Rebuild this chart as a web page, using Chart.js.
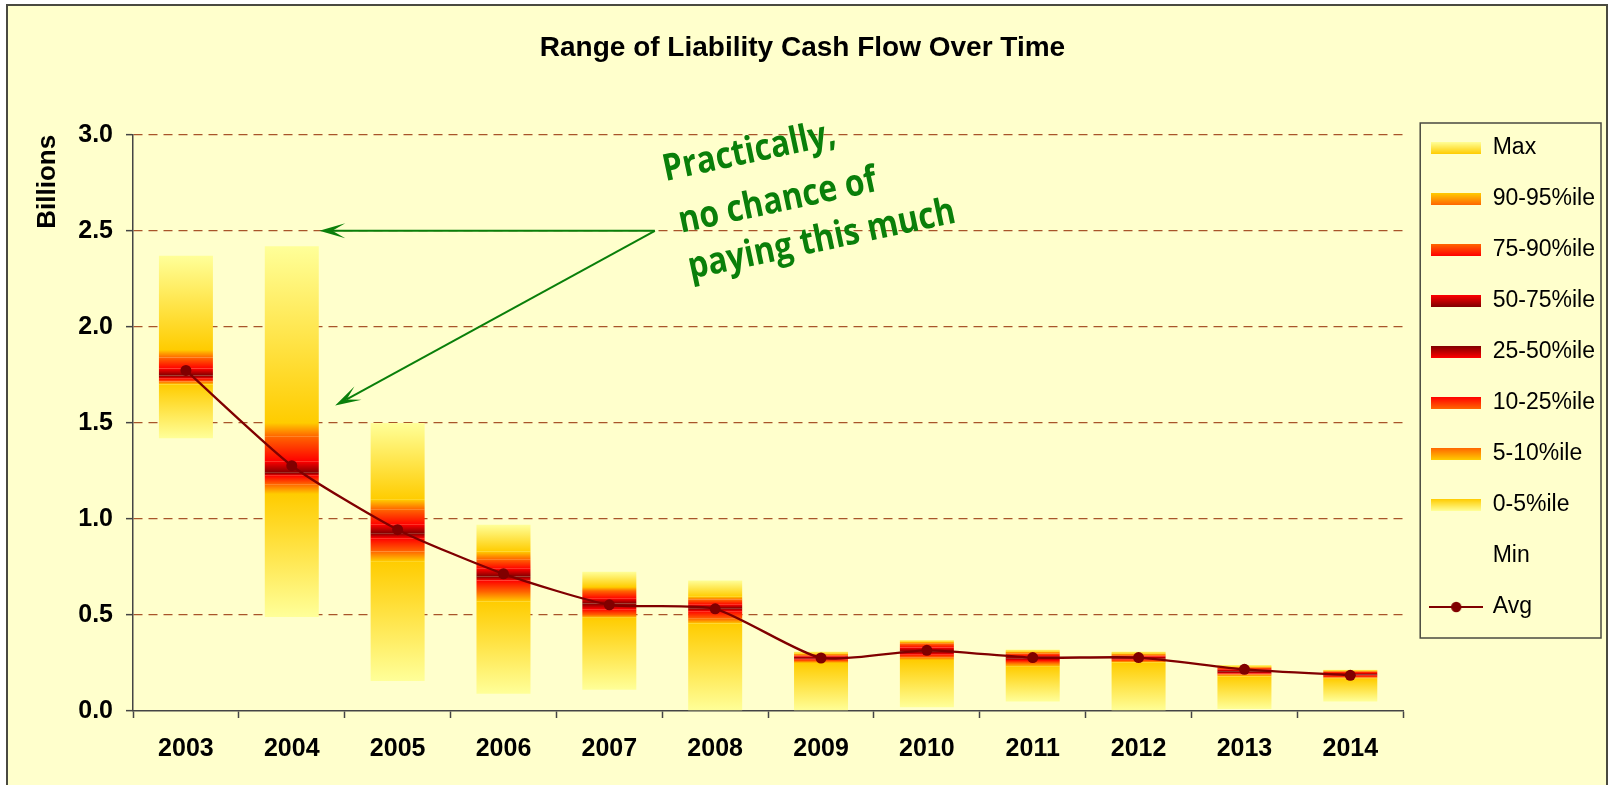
<!DOCTYPE html>
<html>
<head>
<meta charset="utf-8">
<script src="https://cdn.jsdelivr.net/npm/chart.js@4.4.1/dist/chart.umd.min.js"></script>
<style>
  html, body { margin: 0; padding: 0; background: #ffffff; }
  #wrap { position: absolute; left: 0; top: 0; width: 1609px; height: 785px; }
</style>
</head>
<body>
<div id="wrap"><canvas id="chart" width="1609" height="785"></canvas></div>
<script>
// ---------------- data (billions) ----------------
const years   = ['2003','2004','2005','2006','2007','2008','2009','2010','2011','2012','2013','2014'];
const minVals = [1.42, 0.49, 0.156, 0.09, 0.11, 0.00, 0.00, 0.02, 0.05, 0.00, 0.01, 0.05];
const p05Vals = [1.70, 1.13, 0.78, 0.57, 0.485, 0.455, 0.25, 0.265, 0.23, 0.252, 0.18, 0.168];
const p10Vals = [1.715, 1.18, 0.83, 0.62, 0.50, 0.48, 0.26, 0.28, 0.25, 0.26, 0.19, 0.175];
const p25Vals = [1.73, 1.225, 0.90, 0.68, 0.53, 0.52, 0.27, 0.295, 0.265, 0.27, 0.195, 0.183];
const p50Vals = [1.747, 1.24, 0.925, 0.70, 0.56, 0.535, 0.275, 0.31, 0.275, 0.275, 0.205, 0.19];
const p75Vals = [1.783, 1.30, 0.97, 0.74, 0.585, 0.553, 0.285, 0.33, 0.285, 0.283, 0.215, 0.198];
const p90Vals = [1.84, 1.43, 1.05, 0.79, 0.625, 0.58, 0.29, 0.35, 0.30, 0.29, 0.225, 0.205];
const p95Vals = [1.88, 1.50, 1.10, 0.83, 0.645, 0.595, 0.30, 0.36, 0.31, 0.30, 0.23, 0.21];
const maxVals = [2.37, 2.42, 1.50, 0.97, 0.725, 0.68, 0.31, 0.37, 0.32, 0.31, 0.24, 0.215];
const avgVals = [1.773, 1.277, 0.944, 0.714, 0.553, 0.532, 0.276, 0.316, 0.278, 0.278, 0.217, 0.186];
const yTickVals = [0, 0.5, 1.0, 1.5, 2.0, 2.5, 3.0];

const chartTitle = 'Range of Liability Cash Flow Over Time';
const yTitle = 'Billions';
const noteLines = ['Practically,', 'no chance of', 'paying this much'];
// annotation anchors in data units: [category index, value]
const noteAnchors = [[4.53, 2.76], [4.68, 2.49], [4.77, 2.25]];
const arrowFrom = [4.43, 2.5];
const arrowTips = [[1.26, 2.5], [1.41, 1.59]];

// ---------------- styles ----------------
const PALE = '#FFFF99', GOLD = '#FFCC00', ORANGE = '#FF6600', RED = '#FF0000', DARK = '#800000';
const FONT = "'Liberation Sans', Arial, sans-serif";
Chart.defaults.font.family = FONT;
Chart.defaults.color = '#000';

function segGradient(c, bottomColor, topColor) {
  const chart = c.chart;
  if (c.type !== 'data' || !chart.chartArea || !chart.scales.y) return bottomColor;
  const raw = c.raw;
  const ys = chart.scales.y;
  const y0 = ys.getPixelForValue(raw[0]);
  const y1 = ys.getPixelForValue(raw[1]);
  if (!isFinite(y0) || !isFinite(y1) || Math.abs(y0 - y1) < 0.01) return bottomColor;
  const g = chart.ctx.createLinearGradient(0, y0, 0, y1);
  g.addColorStop(0, bottomColor);
  g.addColorStop(1, topColor);
  return g;
}

function band(label, lo, hi, cBottom, cTop) {
  return {
    type: 'bar', label,
    data: lo.map((v, i) => [v, hi[i]]),
    backgroundColor: c => segGradient(c, cBottom, cTop),
    borderWidth: 0, grouped: false,
    barPercentage: 0.51, categoryPercentage: 1.0, order: 2,
    swTop: cTop, swBottom: cBottom
  };
}

const datasets = [
  { type: 'bar', label: 'Min', data: minVals.map(v => [0, v]), backgroundColor: 'rgba(0,0,0,0)',
    borderWidth: 0, grouped: false, barPercentage: 0.51, categoryPercentage: 1.0, order: 2 },
  band('0-5%ile',   minVals, p05Vals, PALE,   GOLD),
  band('5-10%ile',  p05Vals, p10Vals, GOLD,   ORANGE),
  band('10-25%ile', p10Vals, p25Vals, ORANGE, RED),
  band('25-50%ile', p25Vals, p50Vals, RED,    DARK),
  band('50-75%ile', p50Vals, p75Vals, DARK,   RED),
  band('75-90%ile', p75Vals, p90Vals, RED,    ORANGE),
  band('90-95%ile', p90Vals, p95Vals, ORANGE, GOLD),
  band('Max',       p95Vals, maxVals, GOLD,   PALE),
  { type: 'line', label: 'Avg', data: avgVals, borderColor: DARK, borderWidth: 2.3,
    backgroundColor: DARK, pointRadius: 5.5, pointBackgroundColor: DARK, pointBorderWidth: 0,
    tension: 0.2, order: 0 }
];

const legendOrder = ['Max','90-95%ile','75-90%ile','50-75%ile','25-50%ile','10-25%ile','5-10%ile','0-5%ile','Min','Avg'];

function swatch(topColor, bottomColor) {
  const c = document.createElement('canvas'); c.width = 50; c.height = 12;
  const x = c.getContext('2d');
  if (topColor) {
    const g = x.createLinearGradient(0, 0, 0, 12);
    g.addColorStop(0, topColor); g.addColorStop(1, bottomColor);
    x.fillStyle = g; x.fillRect(0, 0, 50, 12);
  }
  return c;
}
function lineSwatch(color) {
  const c = document.createElement('canvas'); c.width = 54; c.height = 12;
  const x = c.getContext('2d');
  x.strokeStyle = color; x.lineWidth = 2;
  x.beginPath(); x.moveTo(0, 6); x.lineTo(54, 6); x.stroke();
  x.fillStyle = color; x.beginPath(); x.arc(27, 6, 5.2, 0, Math.PI * 2); x.fill();
  return c;
}

const framePlugin = {
  id: 'frame',
  beforeDraw(chart) {
    const ctx = chart.ctx;
    ctx.save();
    ctx.fillStyle = '#ffffff'; ctx.fillRect(0, 0, chart.width, chart.height);
    ctx.fillStyle = '#FFFFCC'; ctx.fillRect(7, 5, 1600, 800);
    ctx.strokeStyle = '#4a4a40'; ctx.lineWidth = 2; ctx.strokeRect(7, 5, 1600, 800);
    ctx.restore();
  },
  afterDraw(chart) {
    const lg = chart.legend, ctx = chart.ctx;
    if (!lg || !lg.legendHitBoxes || !lg.legendHitBoxes.length) return;
    const hb = lg.legendHitBoxes;
    const first = hb[0], last = hb[hb.length - 1];
    const left = first.left - 11, top = first.top - 13.5;
    const bottom = last.top + last.height + 19.5, right = lg.right - 4;
    ctx.save();
    ctx.strokeStyle = '#4a4a40'; ctx.lineWidth = 1.5;
    ctx.strokeRect(left, top, right - left, bottom - top);
    ctx.restore();
  }
};

function drawArrow(ctx, x0, y0, x1, y1) {
  const a = Math.atan2(y1 - y0, x1 - x0);
  const L = 26, W = 7.5, N = 13;
  const cx = Math.cos(a), sy = Math.sin(a);
  const nx = x1 - N * cx, ny = y1 - N * sy;
  ctx.beginPath(); ctx.moveTo(x0, y0); ctx.lineTo(nx, ny); ctx.stroke();
  const bx = x1 - L * cx, by = y1 - L * sy;
  const px = -sy, py = cx;
  ctx.beginPath();
  ctx.moveTo(x1, y1);
  ctx.lineTo(bx + W * px, by + W * py);
  ctx.lineTo(nx, ny);
  ctx.lineTo(bx - W * px, by - W * py);
  ctx.closePath(); ctx.fill();
}

const notePlugin = {
  id: 'note',
  afterDraw(chart) {
    const ctx = chart.ctx, xs = chart.scales.x, ys = chart.scales.y;
    const px = p => [xs.getPixelForValue(p[0]), ys.getPixelForValue(p[1])];
    ctx.save();
    ctx.strokeStyle = '#0A7F0A'; ctx.fillStyle = '#0A7F0A'; ctx.lineWidth = 2;
    const [fx, fy] = px(arrowFrom);
    arrowTips.forEach(t => { const [tx, ty] = px(t); drawArrow(ctx, fx, fy, tx, ty); });
    ctx.font = "bold 37px 'Open Sans', Lato, sans-serif";
    ctx.textAlign = 'left'; ctx.textBaseline = 'alphabetic';
    noteLines.forEach((s, i) => {
      const [ax, ay] = px(noteAnchors[i]);
      ctx.save(); ctx.translate(ax, ay); ctx.rotate(-12 * Math.PI / 180); ctx.scale(0.86, 1);
      ctx.fillText(s, 0, 0); ctx.restore();
    });
    ctx.restore();
  }
};

new Chart(document.getElementById('chart'), {
  data: { labels: years, datasets },
  options: {
    responsive: false, devicePixelRatio: 1, animation: false, events: [],
    layout: { padding: { left: 0, top: 0, right: 4, bottom: 5 } },
    plugins: {
      tooltip: { enabled: false },
      title: {
        display: true, text: chartTitle, color: '#000',
        font: { size: 28, weight: 'bold', family: FONT, lineHeight: 1.2 },
        padding: { top: 31, bottom: 70.2 }
      },
      legend: {
        position: 'right', align: 'start',
        title: { display: true, text: '', padding: { top: 98.5, bottom: 0 }, font: { size: 10, lineHeight: 1 } },
        labels: {
          usePointStyle: true, pointStyleWidth: 50, padding: 28, color: '#000',
          font: { size: 23, family: FONT },
          generateLabels(chart) {
            return legendOrder.map(name => {
              const idx = chart.data.datasets.findIndex(d => d.label === name);
              const ds = chart.data.datasets[idx];
              let ps;
              if (name === 'Avg') ps = lineSwatch(DARK);
              else if (name === 'Min') ps = swatch(null, null);
              else ps = swatch(ds.swTop, ds.swBottom);
              return { text: name, pointStyle: ps, fillStyle: 'rgba(0,0,0,0)', strokeStyle: 'rgba(0,0,0,0)',
                       lineWidth: 0, hidden: false, datasetIndex: idx, fontColor: '#000' };
            });
          }
        }
      }
    },
    scales: {
      x: {
        type: 'category',
        grid: { display: true, drawOnChartArea: false, drawTicks: true, tickLength: 7, tickColor: '#444', tickWidth: 1.5, offset: true },
        border: { display: true, color: '#444', width: 1.5 },
        ticks: { color: '#000', padding: 16, font: { size: 25, weight: 'bold', family: FONT, lineHeight: 1.2 } }
      },
      y: {
        type: 'linear', min: 0, max: 3,
        afterFit(s) { s.width = 133; },
        afterBuildTicks(s) { s.ticks = yTickVals.map(v => ({ value: v })); },
        grid: {
          color: c => (c.tick && c.tick.value === 0) ? 'rgba(0,0,0,0)' : '#A8552A',
          lineWidth: 1.3, drawTicks: true, tickLength: 7, tickColor: '#444', tickWidth: 1.5
        },
        border: { display: true, color: '#444', width: 1.5, dash: [9, 6] },
        ticks: {
          color: '#000', padding: 13, font: { size: 25, weight: 'bold', family: FONT },
          callback: v => Number(v).toFixed(1)
        },
        title: {
          display: true, text: yTitle, align: 'end', color: '#000',
          font: { size: 26, weight: 'bold', family: FONT, lineHeight: 1.2 },
          padding: { top: 32, bottom: 0 }
        }
      }
    }
  },
  plugins: [framePlugin, notePlugin]
});
</script>
</body>
</html>
